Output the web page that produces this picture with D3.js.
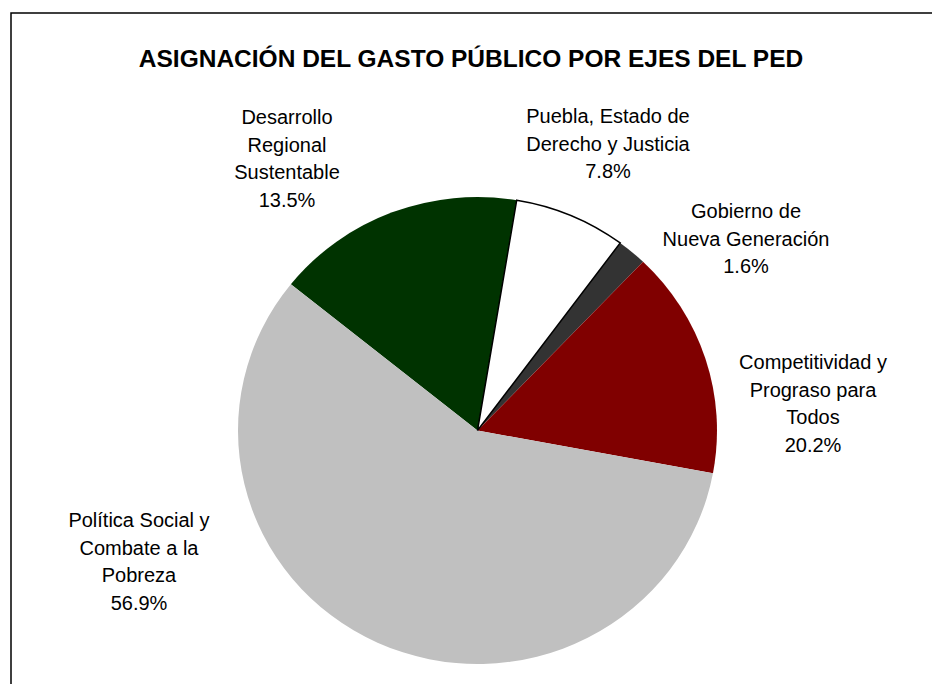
<!DOCTYPE html>
<html>
<head>
<meta charset="utf-8">
<script src="https://cdn.jsdelivr.net/npm/d3@7"></script>
<style>
  html, body { margin: 0; padding: 0; background: #fff; }
  svg { display: block; }
</style>
</head>
<body>
<svg id="chart" width="932" height="684"></svg>
<script>
// ---- data ----
const title = "ASIGNACIÓN DEL GASTO PÚBLICO POR EJES DEL PED";
const categories = [
  ["Desarrollo", "Regional", "Sustentable"],
  ["Puebla, Estado de", "Derecho y Justicia"],
  ["Gobierno de", "Nueva Generación"],
  ["Competitividad y", "Prograso para", "Todos"],
  ["Política Social y", "Combate a la", "Pobreza"]
];
// slice shares as drawn in the picture
const sliceValues = [16.84, 7.54, 1.99, 15.78, 57.85];
// percentages printed in the labels
const labelPct = ["13.5%", "7.8%", "1.6%", "20.2%", "56.9%"];
const colors = ["#003300", "#ffffff", "#333333", "#800000", "#c0c0c0"];
// label centre anchors (x, y of first line middle)
const labelPos = [[287, 117], [608, 116], [746, 211], [813, 362], [139, 520]];

// ---- drawing ----
const svg = d3.select("#chart");
const W = 932, H = 684;

// frame (top and left edges visible)
svg.append("path")
  .attr("d", `M11,${H} L11,13 L${W},13`)
  .attr("fill", "none").attr("stroke", "#000").attr("stroke-width", 1.5);

svg.append("text")
  .attr("x", 471).attr("y", 67)
  .attr("text-anchor", "middle")
  .attr("font-family", "Liberation Sans, Arial, sans-serif")
  .attr("font-weight", "bold").attr("font-size", 24.5)
  .text(title);

const cx = 477.5, cy = 430.5, rx = 239.5, ry = 233.5;
const startDeg = -51.2;
const pie = d3.pie().sort(null).value(d => d)
  .startAngle(startDeg * Math.PI / 180)
  .endAngle(startDeg * Math.PI / 180 + 2 * Math.PI);
const arc = d3.arc().innerRadius(0).outerRadius(ry);

const g = svg.append("g")
  .attr("transform", `translate(${cx},${cy}) scale(${rx / ry},1)`);

g.selectAll("path.slice")
  .data(pie(sliceValues))
  .join("path")
  .attr("class", "slice")
  .attr("d", arc)
  .attr("fill", (d, i) => colors[i])
  .attr("stroke", (d, i) => colors[i] === "#ffffff" ? "#000" : "none")
  .attr("stroke-width", 1.5)
  .attr("vector-effect", "non-scaling-stroke");
// keep white slice outline on top
g.selectAll("path.slice").filter((d, i) => colors[i] === "#ffffff").raise();

const lineH = 27.7;
categories.forEach((lines, i) => {
  const all = lines.concat([labelPct[i]]);
  const t = svg.append("text")
    .attr("text-anchor", "middle")
    .attr("font-family", "Liberation Sans, Arial, sans-serif")
    .attr("font-size", 20)
    .attr("fill", "#000");
  all.forEach((s, k) => {
    t.append("tspan")
      .attr("x", labelPos[i][0])
      .attr("y", labelPos[i][1] + k * lineH)
      .attr("dy", "0.35em")
      .text(s);
  });
});
</script>
</body>
</html>
